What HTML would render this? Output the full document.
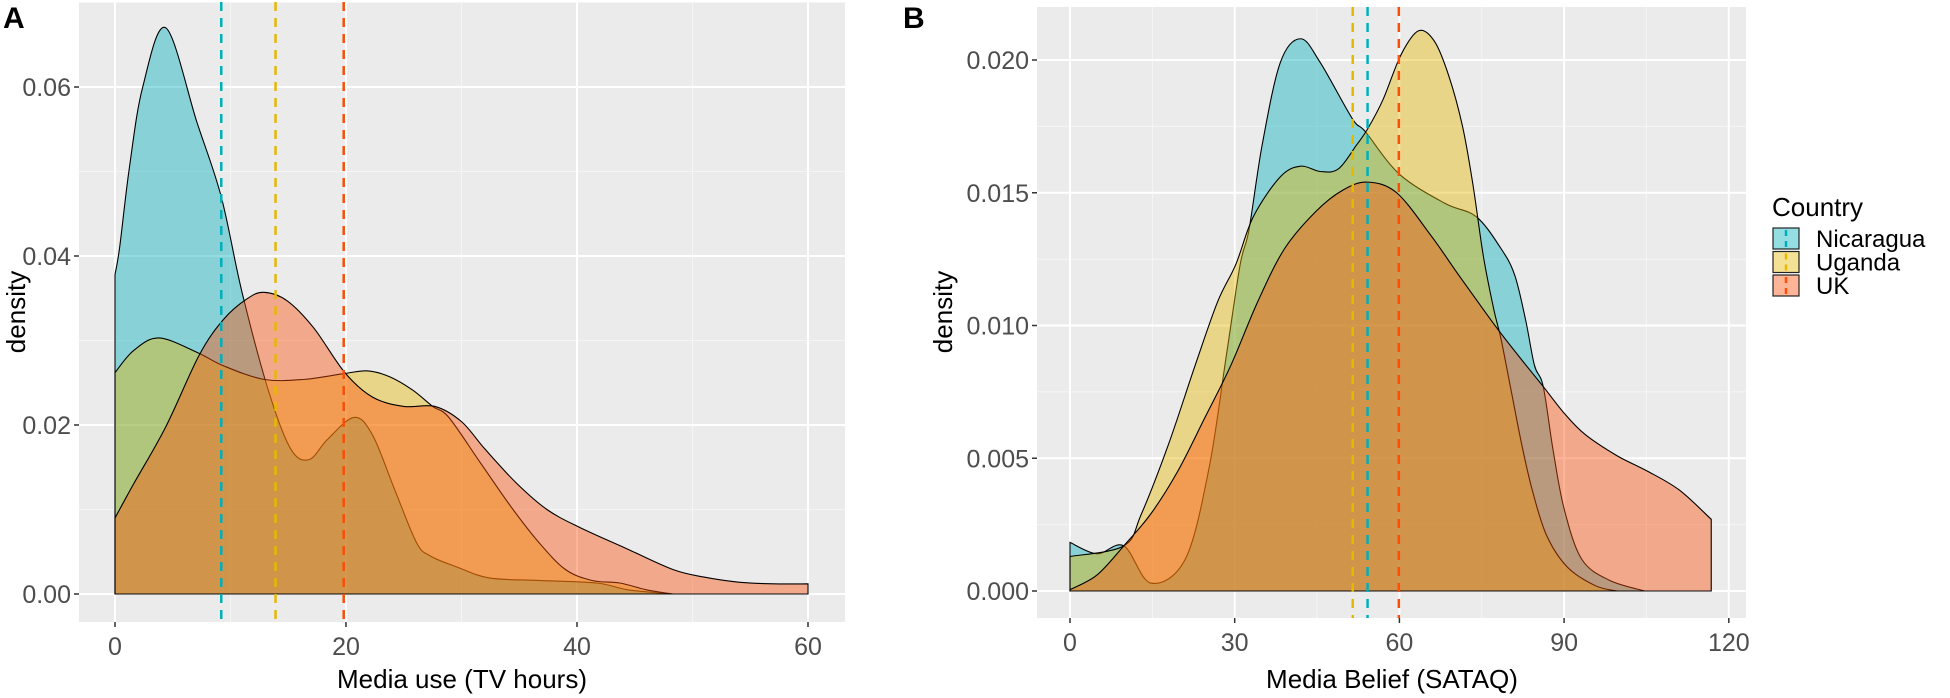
<!DOCTYPE html>
<html><head><meta charset="utf-8"><style>
html,body{margin:0;padding:0;background:#fff;}
svg{display:block;font-family:"Liberation Sans",sans-serif;}
</style></head><body>
<svg id="chart" width="1950" height="698" viewBox="0 0 1950 698" xmlns="http://www.w3.org/2000/svg"></svg>
<script>
// ---- Panel A data (Media use, TV hours) ----
const aNicX=[0,0.4,1.25,2.4,4.4,7.1,9.2,11,13.3,15.2,16.8,18.4,20.7,22.3,24.2,26.1,27.3,29.6,32.4,36.7,41.7,44.4,48.3];
const aNicY=[0.0378,0.041,0.0505,0.060,0.067,0.0558,0.047,0.0357,0.024,0.0172,0.0159,0.0183,0.0209,0.0188,0.0124,0.0061,0.0045,0.0032,0.0019,0.0016,0.0013,0.0005,0];
const aUgaX=[0,1.6,3.8,7.1,9.4,12.9,16.4,19.9,21.9,23.8,25.8,27.5,28.9,31.6,34.3,36.7,39,41.3,43.7,46,48.3];
const aUgaY=[0.0262,0.0288,0.0303,0.0286,0.027,0.0254,0.0254,0.0261,0.0264,0.0257,0.0241,0.0222,0.0209,0.0156,0.0103,0.0061,0.0029,0.0016,0.0013,0.0005,0];
const aUkX=[0,1.6,4.4,7.3,9.4,11.4,12.9,14.9,17.2,19.9,22.3,25,27.7,30,32,34.7,37.4,40.2,44.4,48.3,51,54,57,60];
const aUkY=[0.009,0.013,0.0198,0.0283,0.0325,0.0349,0.0357,0.0347,0.0315,0.0262,0.0233,0.0222,0.0222,0.0204,0.0172,0.0132,0.01,0.0079,0.0053,0.0029,0.002,0.0014,0.0012,0.0012];
const aMeans=[9.2,13.9,19.8];
const aXTicks=[0,20,40,60];
const aYTicks=[0,0.02,0.04,0.06];
const aYLabels=["0.00","0.02","0.04","0.06"];
// ---- Panel B data (Media Belief, SATAQ) ----
const bNicX=[0,4.9,9.8,14.7,21,25.3,28.5,31,32.6,35,38.3,42,45.6,51.4,53.8,60,68.3,74,78.5,81,83,84.6,86.2,88,90,93.2,98.3,104.7];
const bNicY=[0.00183,0.0014,0.0017,0.0003,0.0012,0.0046,0.0089,0.0123,0.0136,0.0168,0.0199,0.0208,0.0199,0.0178,0.0173,0.0157,0.0146,0.0141,0.0129,0.0119,0.0102,0.0085,0.0077,0.0053,0.0031,0.0012,0.0004,0];
const bUgaX=[0,9.8,13,17.9,22.8,26.9,30.2,33.4,38.3,42,45.6,48.9,52.2,54.2,57,60.3,63.5,66.4,69,71.5,73.4,75.3,77.2,78.5,80.4,82.3,84.2,86.8,90.6,95.7,99.6];
const bUgaY=[0.0013,0.0017,0.0029,0.0055,0.0085,0.0109,0.0123,0.0141,0.0156,0.016,0.0158,0.0159,0.0168,0.0174,0.0185,0.0202,0.0211,0.0207,0.0194,0.0175,0.0153,0.0126,0.0106,0.0095,0.0075,0.0055,0.0038,0.0021,0.0009,0.0002,0];
const bUkX=[0,4.9,9.8,14.7,19.6,24.5,29.3,34.2,39.1,44.8,49.7,54.2,59.5,65.7,70.8,75.3,78.5,82.3,86.2,90,93.8,99.6,105.3,111,116.8];
const bUkY=[0.00005,0.0006,0.0017,0.0029,0.0045,0.0065,0.0085,0.0109,0.0129,0.0143,0.0151,0.0154,0.015,0.0134,0.0119,0.0106,0.0097,0.0087,0.0077,0.0067,0.0059,0.0051,0.0045,0.0038,0.0027];
const bMeans=[54.2,51.5,59.9];
const bXTicks=[0,30,60,90,120];
const bYTicks=[0,0.005,0.01,0.015,0.02];
const bYLabels=["0.000","0.005","0.010","0.015","0.020"];
const countries=["Nicaragua","Uganda","UK"];
const colors=["#00AFBB","#E7B800","#FC4E07"];

const NS="http://www.w3.org/2000/svg";
const svg=document.getElementById("chart");
function el(tag,attrs,parent,txt){const e=document.createElementNS(NS,tag);for(const k in attrs)e.setAttribute(k,attrs[k]);if(txt!==undefined)e.textContent=txt;(parent||svg).appendChild(e);return e;}
function smoothPath(pts){let d="M"+pts[0][0]+","+pts[0][1];for(let i=0;i<pts.length-1;i++){const p0=pts[Math.max(i-1,0)],p1=pts[i],p2=pts[i+1],p3=pts[Math.min(i+2,pts.length-1)];const c1x=p1[0]+(p2[0]-p0[0])/6,c1y=p1[1]+(p2[1]-p0[1])/6,c2x=p2[0]-(p3[0]-p1[0])/6,c2y=p2[1]-(p3[1]-p1[1])/6;d+=" C"+c1x+","+c1y+" "+c2x+","+c2y+" "+p2[0]+","+p2[1];}return d;}

function panel(cfg){
  const g=el("g",{});
  
  
  const sx=v=>cfg.x0+v*cfg.kx, sy=v=>cfg.y0-v*cfg.ky;
  const bg=el("rect",{x:cfg.L,y:cfg.T,width:cfg.R-cfg.L,height:cfg.B-cfg.T,fill:"#EBEBEB"},g);
  
  
  for(let i=0;i<cfg.xt.length-1;i++){const v=(cfg.xt[i]+cfg.xt[i+1])/2;el("line",{x1:sx(v),x2:sx(v),y1:cfg.T,y2:cfg.B,stroke:"#F5F5F5","stroke-width":1},g);}
  for(let i=0;i<cfg.yt.length-1;i++){const v=(cfg.yt[i]+cfg.yt[i+1])/2;el("line",{x1:cfg.L,x2:cfg.R,y1:sy(v),y2:sy(v),stroke:"#F5F5F5","stroke-width":1},g);}
  {const v=cfg.yt[cfg.yt.length-1]+(cfg.yt[1]-cfg.yt[0])/2; if(sy(v)>cfg.T) el("line",{x1:cfg.L,x2:cfg.R,y1:sy(v),y2:sy(v),stroke:"#F5F5F5","stroke-width":1},g);}
  cfg.xt.forEach(v=>{el("line",{x1:sx(v),x2:sx(v),y1:cfg.T,y2:cfg.B,stroke:"#fff","stroke-width":2},g);
    el("line",{x1:sx(v),x2:sx(v),y1:cfg.B,y2:cfg.B+5,stroke:"#333","stroke-width":1.5},g);
    const t=el("text",{x:sx(v),y:cfg.B+33,"text-anchor":"middle","font-size":cfg.fs,fill:"#4D4D4D"},g,String(v));
    
    });
  cfg.yt.forEach((v,i)=>{el("line",{x1:cfg.L,x2:cfg.R,y1:sy(v),y2:sy(v),stroke:"#fff","stroke-width":2},g);
    el("line",{x1:cfg.L-5,x2:cfg.L,y1:sy(v),y2:sy(v),stroke:"#333","stroke-width":1.5},g);
    const t=el("text",{x:cfg.L-8,y:sy(v)+9,"text-anchor":"end","font-size":cfg.fs,fill:"#4D4D4D"},g,cfg.yl[i]);
    
    });
  cfg.series.forEach((s,i)=>{
    const pts=s[0].map((x,j)=>[sx(x),sy(s[1][j])]);
    const last=s[0][s[0].length-1];
    let d=smoothPath(pts)+" L"+sx(last)+","+sy(0)+" L"+sx(s[0][0])+","+sy(0)+" Z";
    const p=el("path",{d:d,fill:colors[i],"fill-opacity":0.42,stroke:"#000","stroke-width":1.1},g);
    
    
  });
  cfg.means.forEach((m,i)=>{
    const l=el("line",{x1:sx(m),x2:sx(m),y1:cfg.T,y2:cfg.B,stroke:colors[i],"stroke-width":2.5,"stroke-dasharray":"9,7"},g);
    
    
  });
  const xt=el("text",{x:cfg.xtx,y:688,"text-anchor":"middle","font-size":26,fill:"#000"},g,cfg.xtitle);
  
  
  const yt=el("text",{x:0,y:0,"text-anchor":"middle","font-size":26,fill:"#000",transform:"translate("+cfg.ytx+",312) rotate(-90)"},g,"density");
  
  
  const lab=el("text",{x:cfg.labx,y:28,"font-size":30,"font-weight":"bold",fill:"#000"},g,cfg.label);
  
  
}
panel({name:"panel-a",L:79,R:845,T:2,B:622,x0:115,kx:11.55,y0:594,ky:8450,xt:aXTicks,yt:aYTicks,yl:aYLabels,fs:25,
  series:[[aNicX,aNicY],[aUgaX,aUgaY],[aUkX,aUkY]],means:aMeans,xtitle:"Media use (TV hours)",xtx:462,ytx:25,labx:3,label:"A"});
panel({name:"panel-b",L:1037,R:1746,T:7,B:618,x0:1070,kx:5.49,y0:591,ky:26550,xt:bXTicks,yt:bYTicks,yl:bYLabels,fs:25,
  series:[[bNicX,bNicY],[bUgaX,bUgaY],[bUkX,bUkY]],means:bMeans,xtitle:"Media Belief (SATAQ)",xtx:1392,ytx:952,labx:903,label:"B"});
const lg=el("g",{});


const lt=el("text",{x:1772,y:216,"font-size":26,fill:"#000"},lg,"Country");


countries.forEach((c,i)=>{
  const y=228+i*23.5;
  const e=el("g",{},lg);
  
  
  el("rect",{x:1773,y:y,width:26,height:21,fill:colors[i],"fill-opacity":0.42,stroke:"#222","stroke-width":1.2},e);
  el("line",{x1:1786,x2:1786,y1:y+2,y2:y+19,stroke:colors[i],"stroke-width":2.5,"stroke-dasharray":"6,5"},e);
  el("text",{x:1816,y:y+19,"font-size":24,fill:"#000"},e,c);
});
</script>
</body></html>
